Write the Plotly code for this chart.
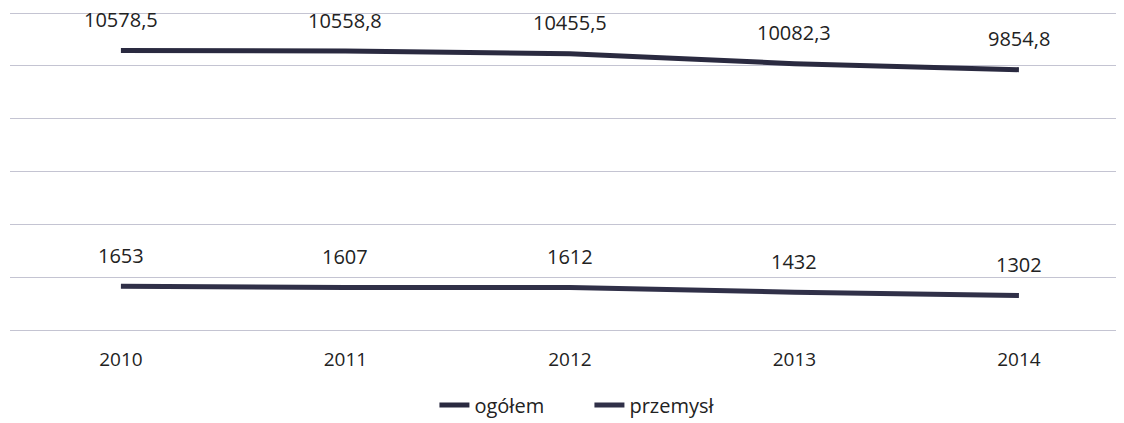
import plotly.graph_objects as go

years = ["2010", "2011", "2012", "2013", "2014"]
ogolem = [10578.5, 10558.8, 10455.5, 10082.3, 9854.8]
przemysl = [1653, 1607, 1612, 1432, 1302]
ogolem_labels = ["10578,5", "10558,8", "10455,5", "10082,3", "9854,8"]
przemysl_labels = ["1653", "1607", "1612", "1432", "1302"]

xpos = list(range(len(years)))
font = dict(family="Open Sans", size=20, color="#222222")
tickfont = dict(family="Open Sans", size=19, color="#222222")

fig = go.Figure()
fig.add_trace(go.Scatter(x=xpos, y=ogolem, mode="lines", name="ogółem",
                         line=dict(color="#2a2a40", width=5)))
fig.add_trace(go.Scatter(x=xpos, y=przemysl, mode="lines", name="przemysł",
                         line=dict(color="#303048", width=5)))

for xs, ys, ls in [(xpos, ogolem, ogolem_labels), (xpos, przemysl, przemysl_labels)]:
    for x, y, t in zip(xs, ys, ls):
        fig.add_annotation(x=x, y=y, text=t, showarrow=False, yshift=31,
                           font=font, xanchor="center", yanchor="middle")

fig.update_layout(
    width=1116, height=415,
    margin=dict(l=2, r=0, t=3, b=93),
    paper_bgcolor="white", plot_bgcolor="white",
    font=font,
    showlegend=True,
    legend=dict(orientation="h", xref="container", yref="container",
                x=0.521, xanchor="center", y=0.0434, yanchor="middle",
                entrywidth=110,
                font=dict(family="Open Sans", size=20, color="#222222")),
)
fig.update_xaxes(range=[-0.494, 4.468], tickvals=xpos, ticktext=years,
                 showgrid=False, zeroline=False, showline=False, ticks="",
                 ticklabelstandoff=16, tickfont=tickfont)
fig.update_yaxes(range=[0, 12076], tickvals=[0, 2000, 4000, 6000, 8000, 10000, 12000],
                 showticklabels=False,
                 showgrid=True, gridcolor="#c4c4d2", gridwidth=1,
                 zeroline=True, zerolinecolor="#c4c4d2", zerolinewidth=1)

fig.write_html("out.html")
